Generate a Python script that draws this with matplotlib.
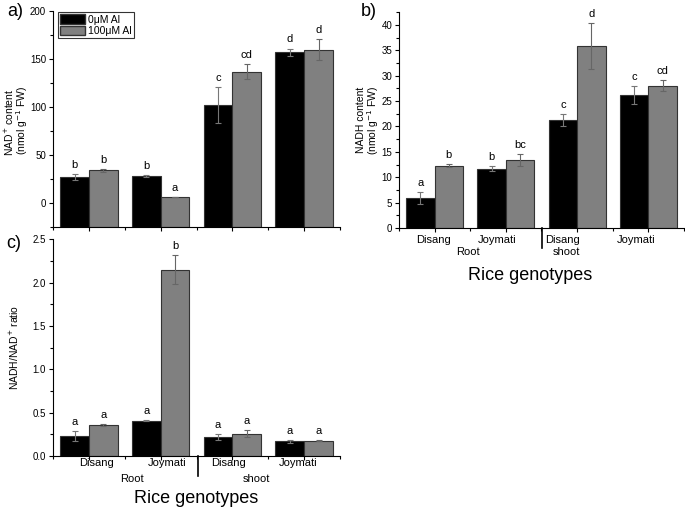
import numpy as np
import matplotlib.pyplot as plt
from matplotlib.ticker import MultipleLocator
from matplotlib.patches import Patch
import matplotlib.transforms as mtransforms

plt.rcParams['font.family'] = ['Liberation Sans', 'DejaVu Sans']

# data: order = Root Disang, Root Joymati, Shoot Disang, Shoot Joymati
groups = ['Disang', 'Joymati', 'Disang', 'Joymati']
treatments = ['0\u03bcM Al', '100\u03bcM Al']

nad_ctrl = [27, 28.5, 102, 157]
nad_ctrl_err = [3, 1, 19, 4]
nad_al = [34, 6, 137, 160]
nad_al_err = [1.5, 0, 8, 11]
nad_letters_ctrl = ['b', 'b', 'c', 'd']
nad_letters_al = ['b', 'a', 'cd', 'd']

nadh_ctrl = [5.9, 11.7, 21.2, 26.2]
nadh_ctrl_err = [1.2, 0.5, 1.2, 1.7]
nadh_al = [12.3, 13.4, 35.8, 28.0]
nadh_al_err = [0.3, 1.1, 4.5, 1.1]
nadh_letters_ctrl = ['a', 'b', 'c', 'c']
nadh_letters_al = ['b', 'bc', 'd', 'cd']

ratio_ctrl = [0.23, 0.41, 0.22, 0.17]
ratio_ctrl_err = [0.06, 0.01, 0.03, 0.015]
ratio_al = [0.36, 2.15, 0.26, 0.18]
ratio_al_err = [0.01, 0.17, 0.04, 0.01]
ratio_letters_ctrl = ['a', 'a', 'a', 'a']
ratio_letters_al = ['a', 'b', 'a', 'a']

x = np.arange(1, len(groups) + 1)
w = 0.4
c_ctrl = 'black'
c_al = '#808080'

fig = plt.figure(figsize=(6.85, 5.08), dpi=100)
ax_a = fig.add_axes([0.0774, 0.553, 0.419, 0.425])
ax_b = fig.add_axes([0.5825, 0.551, 0.416, 0.425])
ax_c = fig.add_axes([0.0774, 0.102, 0.419, 0.427])


def draw_panel(ax, ctrl, ctrl_err, al, al_err, lc, la, ylim, major, minor, fmt):
    base = ylim[0]
    h1 = np.array(ctrl) - base
    h2 = np.array(al) - base
    ax.bar(x - w / 2, h1, w, bottom=base, color=c_ctrl, edgecolor='#333333', linewidth=0.8)
    ax.bar(x + w / 2, h2, w, bottom=base, color=c_al, edgecolor='#333333', linewidth=0.8)
    ax.errorbar(x - w / 2, ctrl, yerr=ctrl_err, fmt='none', ecolor='#777777',
                elinewidth=0.8, capsize=2, capthick=0.8)
    ax.errorbar(x + w / 2, al, yerr=al_err, fmt='none', ecolor='#666666',
                elinewidth=0.8, capsize=2, capthick=0.8)
    for xi, v, e, t in zip(x - w / 2, ctrl, ctrl_err, lc):
        ax.annotate(t, (xi, v + e), xytext=(0, 3), textcoords='offset points',
                    ha='center', va='bottom', fontsize=8)
    for xi, v, e, t in zip(x + w / 2, al, al_err, la):
        ax.annotate(t, (xi, v + e), xytext=(0, 3), textcoords='offset points',
                    ha='center', va='bottom', fontsize=8)
    ax.set_xlim(0.5, 4.5)
    ax.set_ylim(*ylim)
    ax.yaxis.set_major_locator(MultipleLocator(major))
    ax.yaxis.set_minor_locator(MultipleLocator(minor))
    ax.yaxis.set_major_formatter(fmt)
    ax.set_xticks(x)
    ax.set_xticks([0.5, 1.5, 2.5, 3.5, 4.5], minor=True)
    ax.set_xticklabels([])
    for s in ['top', 'right']:
        ax.spines[s].set_visible(False)
    ax.tick_params(axis='both', which='major', length=3, width=0.8, labelsize=7)
    ax.tick_params(axis='both', which='minor', length=2, width=0.8)
    ax.tick_params(axis='y', pad=2)


draw_panel(ax_a, nad_ctrl, nad_ctrl_err, nad_al, nad_al_err,
           nad_letters_ctrl, nad_letters_al, (-25, 200), 50, 25, '{x:.0f}')
draw_panel(ax_b, nadh_ctrl, nadh_ctrl_err, nadh_al, nadh_al_err,
           nadh_letters_ctrl, nadh_letters_al, (0, 42.5), 5, 2.5, '{x:.0f}')
draw_panel(ax_c, ratio_ctrl, ratio_ctrl_err, ratio_al, ratio_al_err,
           ratio_letters_ctrl, ratio_letters_al, (0, 2.5), 0.5, 0.25, '{x:.1f}')

# y label lines placed one by one (pixel centres)
ylabel_lines = [('NAD$^{+}$ content', 9, 122),
                ('(nmol g$^{-1}$ FW)', 22, 120),
                ('NADH content', 361, 120),
                ('(nmol g$^{-1}$ FW)', 373, 120),
                ('NADH/NAD$^{+}$ ratio', 14, 347)]
for txt, px, py in ylabel_lines:
    fig.text(px / 685, 1 - py / 508, txt, rotation=90, ha='center', va='center',
             fontsize=7.5)

leg = ax_a.legend(handles=[Patch(facecolor=c_ctrl, edgecolor='#333333', label=treatments[0]),
                           Patch(facecolor=c_al, edgecolor='#333333', label=treatments[1])],
                  loc='upper left', bbox_to_anchor=(0.015, 1.0), fontsize=7.5, frameon=True,
                  fancybox=False, edgecolor='black', handlelength=2.4, handleheight=1.0,
                  handletextpad=0.25, borderpad=0.2, labelspacing=0.1, borderaxespad=0.1)
leg.get_frame().set_linewidth(0.8)


def category_labels(ax, gx, rx, dy_g, dy_r, div_x, title_y=None, title_x=None):
    tr = mtransforms.blended_transform_factory(ax.transData, ax.transAxes)
    for xi, g in zip(gx, groups):
        ax.text(xi, dy_g, g, transform=tr, ha='center', va='center', fontsize=8)
    ax.text(rx[0], dy_r, 'Root', transform=tr, ha='center', va='center', fontsize=8)
    ax.text(rx[1], dy_r, 'shoot', transform=tr, ha='center', va='center', fontsize=8)
    ax.plot([div_x, div_x], [0, -0.09], transform=tr, color='black', lw=1.2, clip_on=False)
    if title_y is not None:
        ax.text(title_x, title_y, 'Rice genotypes', transform=ax.transAxes,
                ha='center', va='center', fontsize=13)


category_labels(ax_b, [0.98, 1.88, 2.80, 3.83], [1.47, 2.85], -0.055, -0.11, 2.51,
                title_y=-0.22, title_x=0.46)
category_labels(ax_c, [1.11, 2.09, 2.94, 3.91], [1.60, 3.34], -0.032, -0.105, 2.52,
                title_y=-0.195, title_x=0.5)

fig.text(15 / 685, 1 - 12 / 508, 'a)', fontsize=13, ha='center', va='center')
fig.text(369 / 685, 1 - 11 / 508, 'b)', fontsize=13, ha='center', va='center')
fig.text(14 / 685, 1 - 244 / 508, 'c)', fontsize=13, ha='center', va='center')

fig.savefig('out.png', dpi=100)
